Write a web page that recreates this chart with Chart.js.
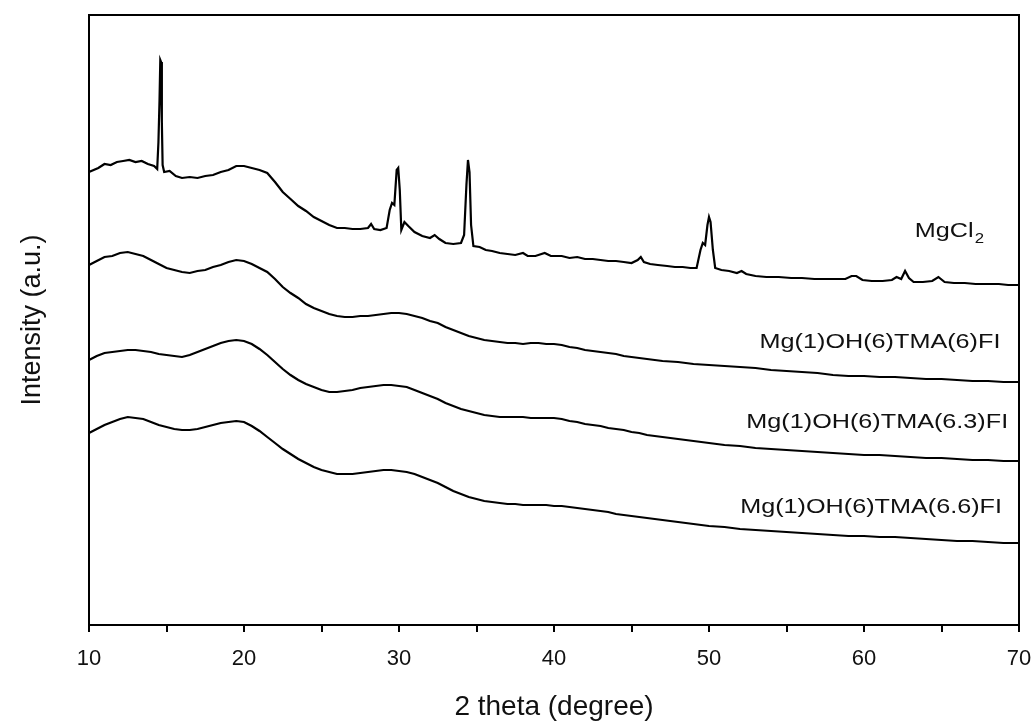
<!DOCTYPE html>
<html>
<head>
<meta charset="utf-8">
<script src="https://cdn.jsdelivr.net/npm/chart.js@4/dist/chart.umd.min.js"></script>
<style>
  html, body { margin: 0; padding: 0; background: #fff; }
  #c { display: block; }
</style>
</head>
<body>
<canvas id="c" width="1035" height="724"></canvas>
<script>
// ---------------- data ----------------
const seriesNames = ["MgCl2", "Mg(1)OH(6)TMA(6)FI", "Mg(1)OH(6)TMA(6.3)FI", "Mg(1)OH(6)TMA(6.6)FI"];

const xTicks = [10, 20, 30, 40, 50, 60, 70];

const mgcl2Theta = [10.0,10.3,10.6,11.0,11.4,11.8,12.2,12.6,13.0,13.4,13.8,14.2,14.40,14.48,14.55,14.60,14.65,14.70,14.75,14.85,
  15.2,15.6,16.0,16.5,17.0,17.5,18.0,18.5,19.0,19.5,20.0,20.5,21.0,21.5,22.0,22.5,23.0,23.5,24.0,24.5,25.0,25.5,26.0,26.5,
  27.0,27.5,28.0,28.2,28.4,28.8,29.2,29.4,29.55,29.7,29.85,29.95,30.05,30.15,30.35,30.6,31.0,31.5,32.0,32.3,32.6,33.0,33.5,
  34.0,34.2,34.35,34.45,34.55,34.65,34.8,35.2,35.6,36.0,36.5,37.0,37.5,38.0,38.3,38.8,39.4,39.8,40.5,41.0,41.5,42.0,42.5,
  43.0,43.5,44.0,44.5,45.0,45.4,45.6,45.8,46.2,46.7,47.3,47.8,48.3,48.8,49.2,49.45,49.6,49.75,49.9,50.0,50.1,50.25,50.4,
  50.8,51.3,51.8,52.1,52.4,53.0,53.7,54.5,55.3,56.0,56.8,57.5,58.2,58.8,59.2,59.5,59.9,60.5,61.2,61.8,62.1,62.4,62.65,62.9,
  63.2,63.8,64.4,64.8,65.2,65.8,66.5,67.2,68.0,68.7,69.3,70.0];
const mgcl2Intensity = [453,455,457,461,460,463,464,465,463,464,461,459,456,483,525,565,563,503,460,453,
  454,449,447,448,447,449,450,453,455,459,459,457,455,452,443,433,426,419,414,408,404,400,397,397,
  396,396,397,401,396,395,397,415,422,420,455,457,435,395,403,399,393,389,387,390,386,382,381,
  382,390,440,465,453,400,379,378,375,374,372,371,370,372,369,369,372,369,369,367,368,366,366,
  365,364,364,363,362,365,368,363,361,360,359,358,358,357,357,375,382,380,400,408,403,375,357,
  355,354,352,354,351,349,348,348,347,347,346,346,346,346,349,349,345,344,344,345,348,346,354,347,
  343,343,344,348,343,342,342,341,341,341,340,340];

const flTheta = [10,10.5,11,11.5,12,12.5,13,13.5,14,14.5,15,15.5,16,16.5,17,17.5,18,18.5,19,19.5,
  20,20.5,21,21.5,22,22.5,23,23.5,24,24.5,25,25.5,26,26.5,27,27.5,28,28.5,29,29.5,
  30,30.5,31,31.5,32,32.5,33,33.5,34,34.5,35,35.5,36,36.5,37,37.5,38,38.5,39,39.5,
  40,40.5,41,41.5,42,42.5,43,43.5,44,44.5,45,45.5,46,
  47,48,49,50,51,52,53,54,55,56,57,58,59,60,61,62,63,64,65,66,67,68,69,70];

const tma60Intensity = [360,364,368,369,372,373,371,369,365,361,357,355,353,352,354,355,358,360,363,365,
  364,361,357,353,346,338,332,327,321,317,314,311,309,308,308,309,309,310,311,312,
  312,311,309,307,304,302,298,295,292,289,287,285,284,283,282,282,281,282,282,281,
  281,280,278,277,275,274,273,272,271,269,268,267,266,
  264,263,261,260,259,258,257,255,254,253,252,250,249,249,248,248,247,246,246,245,244,244,243,243];

const tma63Intensity = [265,269,272,273,274,275,275,274,273,271,270,269,268,270,273,276,279,282,284,285,
  284,281,276,270,263,256,250,245,241,238,235,233,233,234,235,237,238,239,240,240,
  239,238,235,232,229,226,222,219,216,214,212,210,209,208,208,208,208,207,207,207,
  207,206,204,203,201,200,199,197,196,195,193,192,190,
  188,186,184,182,180,179,177,176,175,174,173,172,171,170,170,169,168,167,167,166,165,165,164,164];

const tma66Intensity = [192,196,200,203,206,208,207,206,203,200,198,196,195,195,196,198,200,202,203,204,
  203,199,194,188,182,176,171,166,162,158,155,153,151,151,151,152,153,154,155,155,
  154,153,151,148,145,142,138,134,131,128,126,124,123,122,121,121,120,120,120,120,
  119,119,118,117,116,115,114,113,111,110,109,108,107,
  105,103,101,99,98,96,95,94,93,92,91,90,89,89,88,88,87,86,85,84,84,83,82,82];

// ---------------- build datasets ----------------
function pts(xs, ys) { return xs.map((x, i) => ({ x: x, y: ys[i] })); }
const lineStyle = { borderColor: '#000', borderWidth: 2.2, pointRadius: 0, tension: 0, fill: false };
const datasets = [
  Object.assign({ label: seriesNames[0], data: pts(mgcl2Theta, mgcl2Intensity) }, lineStyle),
  Object.assign({ label: seriesNames[1], data: pts(flTheta, tma60Intensity) }, lineStyle),
  Object.assign({ label: seriesNames[2], data: pts(flTheta, tma63Intensity) }, lineStyle),
  Object.assign({ label: seriesNames[3], data: pts(flTheta, tma66Intensity) }, lineStyle)
];

// curve labels, anchored in data coordinates (right edge / baseline)
const curveLabels = [
  { main: 'MgCl', sub: '2', x: 67.75, y: 388 },
  { main: seriesNames[1], x: 68.8, y: 277 },
  { main: seriesNames[2], x: 69.3, y: 197 },
  { main: seriesNames[3], x: 68.9, y: 112 }
];

const FONT = '"Liberation Sans", Arial, Helvetica, sans-serif';
const STRETCH = 1.2;

const framePlugin = {
  id: 'frame',
  afterDatasetsDraw(chart) {
    const { ctx, chartArea: a, scales } = chart;
    ctx.save();
    ctx.strokeStyle = '#000';
    ctx.lineWidth = 2;
    ctx.beginPath();
    ctx.moveTo(a.left, a.top);
    ctx.lineTo(a.right, a.top);
    ctx.lineTo(a.right, a.bottom);
    ctx.stroke();
    // labels
    ctx.fillStyle = '#111';
    ctx.textBaseline = 'alphabetic';
    curveLabels.forEach(l => {
      const px = scales.x.getPixelForValue(l.x);
      const py = scales.y.getPixelForValue(l.y);
      ctx.save();
      ctx.translate(px, py);
      ctx.scale(STRETCH, 1);
      let subW = 0;
      if (l.sub) {
        ctx.font = '14px ' + FONT;
        subW = ctx.measureText(l.sub).width + 1;
        ctx.textAlign = 'right';
        ctx.fillText(l.sub, 0, 6);
      }
      ctx.font = '21px ' + FONT;
      ctx.textAlign = 'right';
      ctx.fillText(l.main, -subW, 0);
      ctx.restore();
    });
    ctx.restore();
  }
};

new Chart(document.getElementById('c'), {
  type: 'line',
  data: { datasets: datasets },
  plugins: [framePlugin],
  options: {
    responsive: false,
    devicePixelRatio: 1,
    animation: false,
    layout: { padding: { top: 15, right: 16, left: 0, bottom: 0 } },
    plugins: { legend: { display: false }, tooltip: { enabled: false } },
    scales: {
      x: {
        type: 'linear',
        min: 10, max: 70,
        afterFit(s) { s.height = 99; s.paddingLeft = 0; s.paddingRight = 0; },
        border: { display: true, color: '#000', width: 2 },
        grid: { display: true, drawOnChartArea: false, drawTicks: true, tickLength: 7, color: '#000', lineWidth: 2 },
        ticks: {
          stepSize: 5,
          autoSkip: false,
          maxRotation: 0,
          padding: 14,
          color: '#111',
          font: { family: FONT, size: 22 },
          callback: v => (xTicks.includes(v) ? String(v) : '')
        },
        title: {
          display: true,
          text: '2 theta (degree)',
          color: '#111',
          font: { family: FONT, size: 28 },
          padding: { top: 1, bottom: 0 }
        }
      },
      y: {
        type: 'linear',
        min: 0, max: 610,
        afterFit(s) { s.width = 89; s.paddingTop = 0; s.paddingBottom = 0; },
        border: { display: true, color: '#000', width: 2 },
        grid: { display: false },
        ticks: { display: false },
        title: {
          display: true,
          text: 'Intensity (a.u.)',
          color: '#111',
          font: { family: FONT, size: 27 },
          padding: { top: 16, bottom: 0 }
        }
      }
    }
  }
});
</script>
</body>
</html>
